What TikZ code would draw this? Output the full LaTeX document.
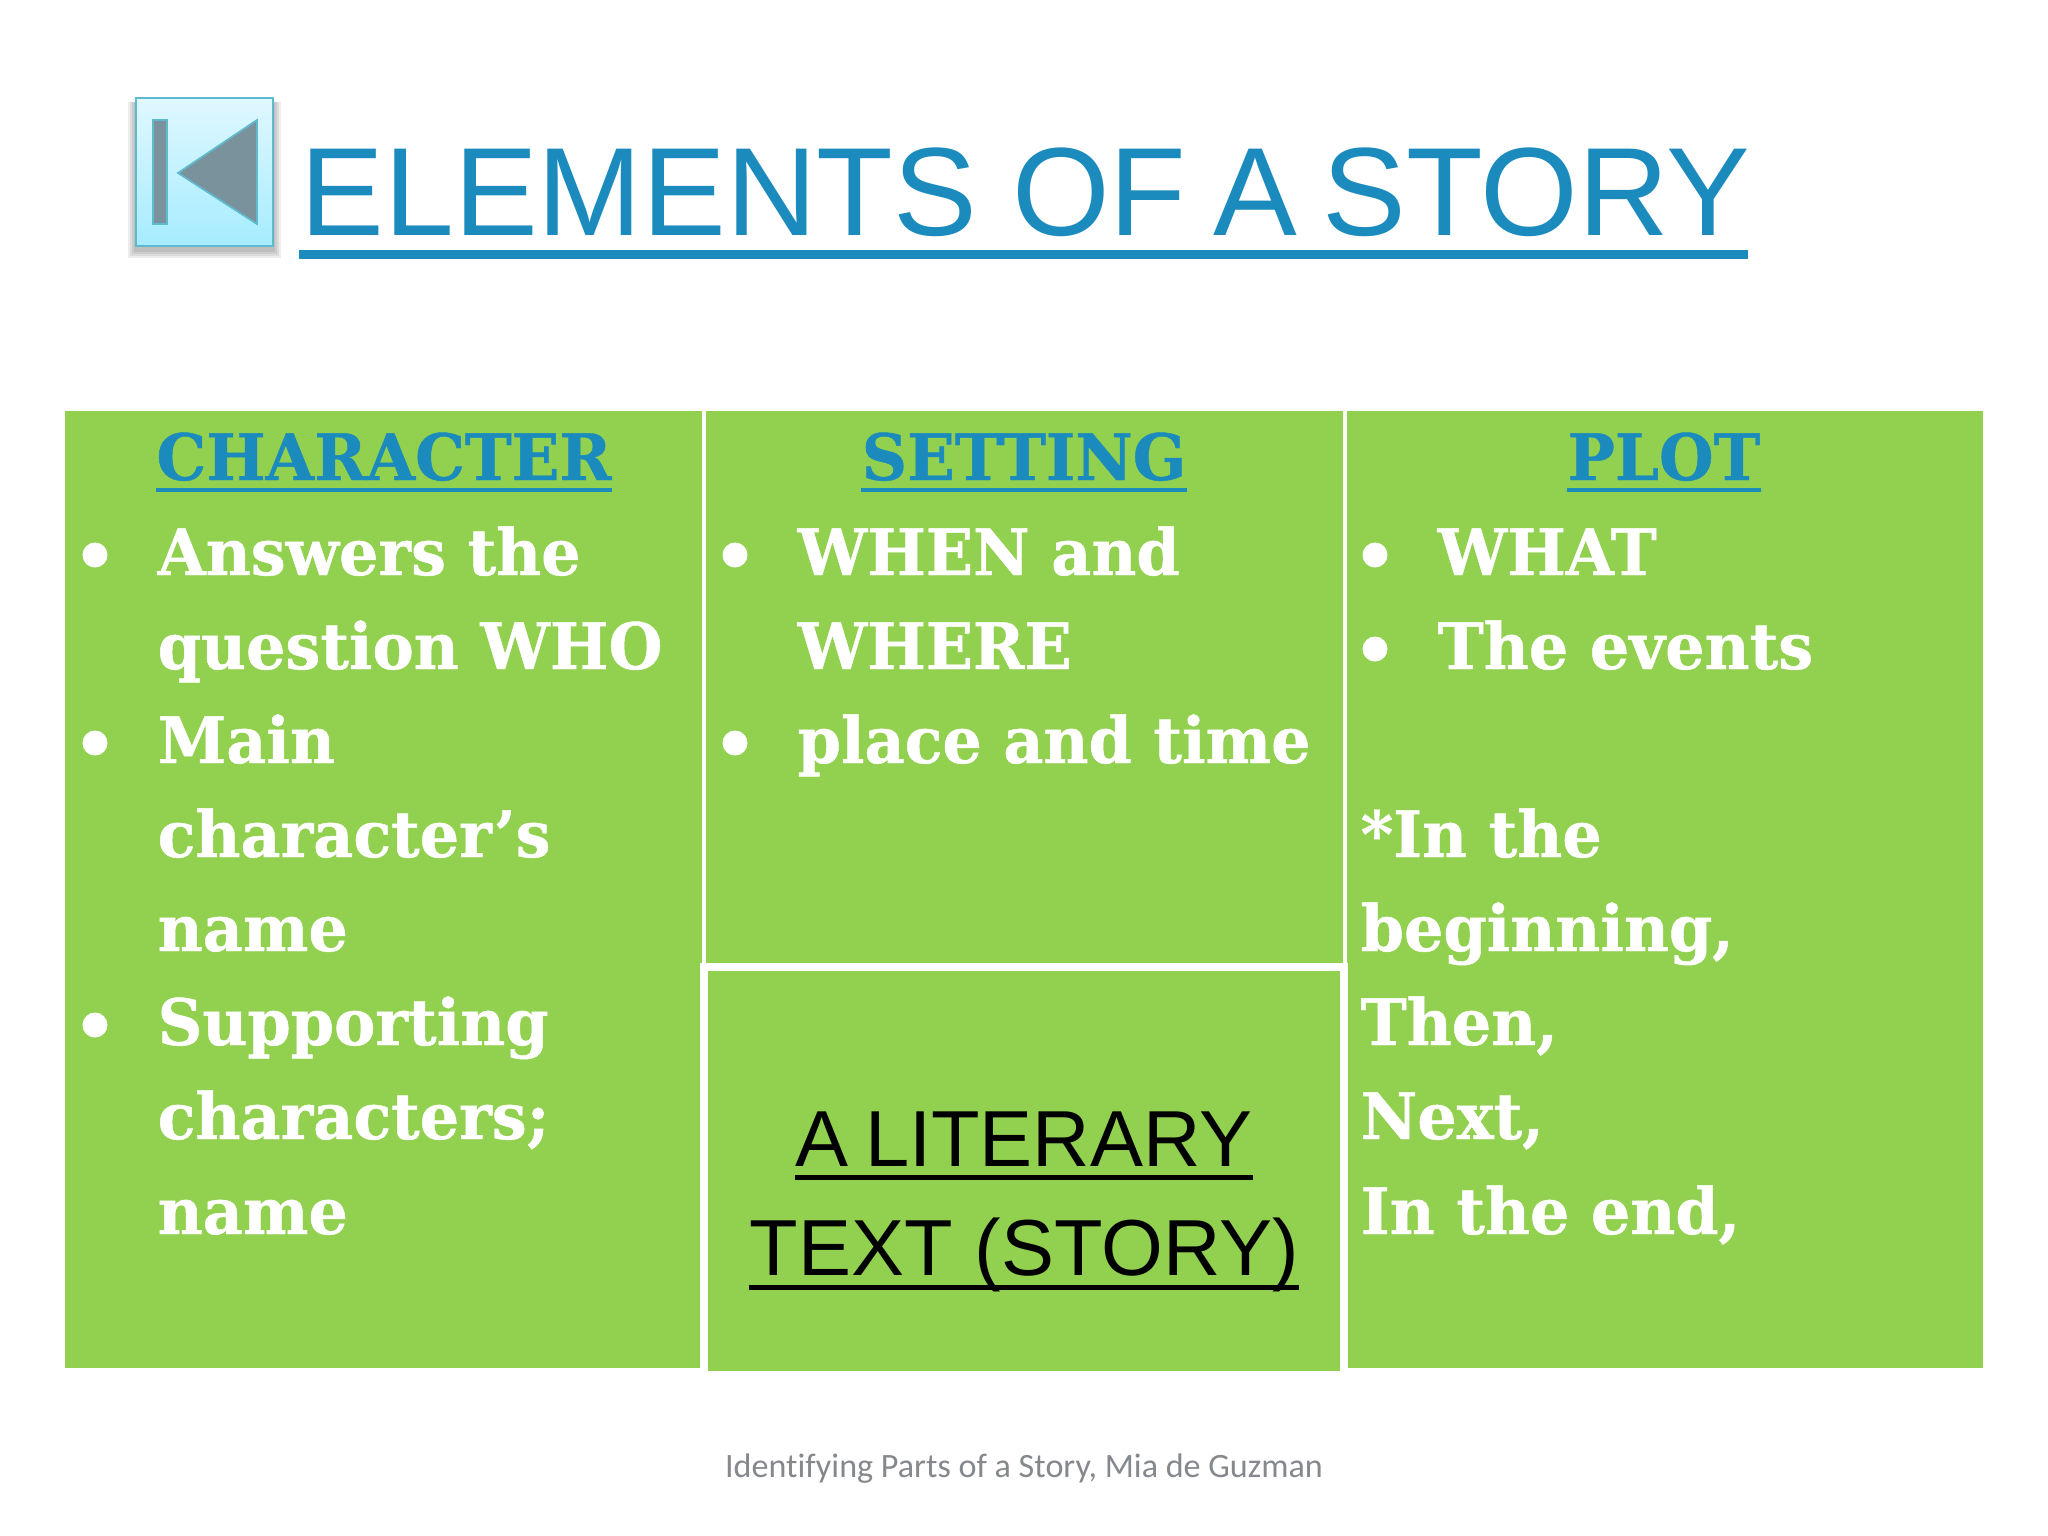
\documentclass[tikz,border=0pt]{standalone}
\usepackage{fontspec}
\setmainfont{Liberation Sans}
\newfontfamily\slabfont[FakeStretch=0.968,FakeBold=0.7]{DejaVu Serif Bold}
\newfontfamily\slabhead[FakeStretch=0.98,FakeBold=0.7]{DejaVu Serif Bold}
\newfontfamily\footfont[Ligatures=NoCommon]{Carlito}
\usetikzlibrary{shadows, calc, positioning}
\definecolor{storygreen}{HTML}{92D050}
\definecolor{storyblue}{HTML}{1B8BBD}
\definecolor{storygrey}{HTML}{85888C}
\definecolor{btnedge}{HTML}{5FBACD}
\definecolor{btnmark}{HTML}{7A929C}
\definecolor{btntop}{HTML}{E0F8FF}
\definecolor{btnlow}{HTML}{A5ECFF}
\tikzset{
    bodytxt/.style={anchor=base west, inner sep=0pt, text=white, font=\slabfont\fontsize{18.2}{18.2}\selectfont},
    headtxt/.style={anchor=base, inner sep=0pt, text=storyblue, font=\slabhead\fontsize{18.2}{18.2}\selectfont},
    sanstxt/.style={anchor=base, inner sep=0pt, font=\fontsize{22.6}{22.6}\selectfont},
    bulletdot/.style={circle, fill=white, inner sep=0pt, minimum size=0.25cm}
}
\begin{document}
\begin{tikzpicture}[x=0.01cm,y=-0.01cm]
    \useasboundingbox (0,0) rectangle (2048,1536);
    % back button
    \foreach \d in {0,2,4,6}{
        \fill[black, opacity=0.07] (134-\d,102) rectangle (275+\d,252+\d);
    }
    \shade[top color=btntop, bottom color=btnlow, draw=btnedge, line width=0.6pt] (136,98) rectangle (273,246);
    \draw[btnedge, fill=btnmark, line width=0.5pt] (153,120) rectangle (167,224);
    \draw[btnedge, fill=btnmark, line width=0.5pt] (178,173) -- (257,120) -- (257,224) -- cycle;
    % title
    \node[sanstxt, anchor=base west, text=storyblue, font=\fontsize{35.7}{35.7}\selectfont] (title) at (300,235) {ELEMENTS OF\kern-0.06em\ A\kern-0.08em\ STORY};
    \draw[storyblue, line width=9*0.01cm] (299,254) -- (1748,254);
    % table cells
    \fill[storygreen] (65,411) rectangle (702,1368);
    \fill[storygreen] (706,411) rectangle (1343,968);
    \fill[storygreen] (1347,411) rectangle (1983,1368);
    \draw[white, fill=storygreen, line width=8*0.01cm] (704,967) rectangle (1344,1375);
    \fill[white] (696,1371) rectangle (1352,1380);
    % headers
    \foreach \nm/\x/\txt in {hchar/384/CHARACTER, hset/1024/SETTING, hplot/1664/PLOT}{
        \node[headtxt] (\nm) at (\x,480) {\txt};
        \draw[storyblue, line width=3.5*0.01cm] ($(\nm.base west)+(0,10)$) -- ($(\nm.base east)+(0,10)$);
    }
    % character column
    \foreach \nm/\y/\txt in {a1/575/Answers the, a2/669/question WHO, a3/763/Main, a4/857/character’s, a5/951/name, a6/1045/Supporting, a7/1139/characters;, a8/1234/name}{
        \node[bodytxt] (\nm) at (157,\y) {\txt};
    }
    % setting column
    \foreach \nm/\y/\txt in {b1/575/WHEN and, b2/669/WHERE, b3/763/place and time}{
        \node[bodytxt] (\nm) at (797,\y) {\txt};
    }
    % plot column
    \foreach \nm/\y/\txt in {c1/575/WHAT, c2/669/The events}{
        \node[bodytxt] (\nm) at (1437,\y) {\txt};
    }
    \foreach \nm/\y/\txt in {c3/857/*In the, c4/951/{beginning,}, c5/1045/{Then,}, c6/1139/{Next,}, c7/1234/{In the end,}}{
        \node[bodytxt] (\nm) at (1360,\y) {\txt};
    }
    % bullets
    \foreach \nm/\x/\y in {d1/95/555, d2/95/743, d3/95/1025, d4/735/555, d5/735/743, d6/1375/555, d7/1375/649}{
        \node[bulletdot] (\nm) at (\x,\y) {};
    }
    % centre box
    \node[sanstxt] (lit1) at (1024,1166) {A\kern-0.07em\ LITERARY};
    \node[sanstxt] (lit2) at (1024,1275) {TEXT (STORY)};
    \draw[black, line width=5*0.01cm] ($(lit1.base west)+(0,11)$) -- ($(lit1.base east)+(0,11)$);
    \draw[black, line width=5*0.01cm] ($(lit2.base west)+(0,12)$) -- ($(lit2.base east)+(0,12)$);
    % footer
    \node[anchor=base, inner sep=0pt, text=storygrey, font=\footfont\fontsize{9.7}{9.7}\selectfont] (foot) at (1024,1477) {Identifying Parts of a Story, Mia de Guzman};
\end{tikzpicture}
\end{document}
